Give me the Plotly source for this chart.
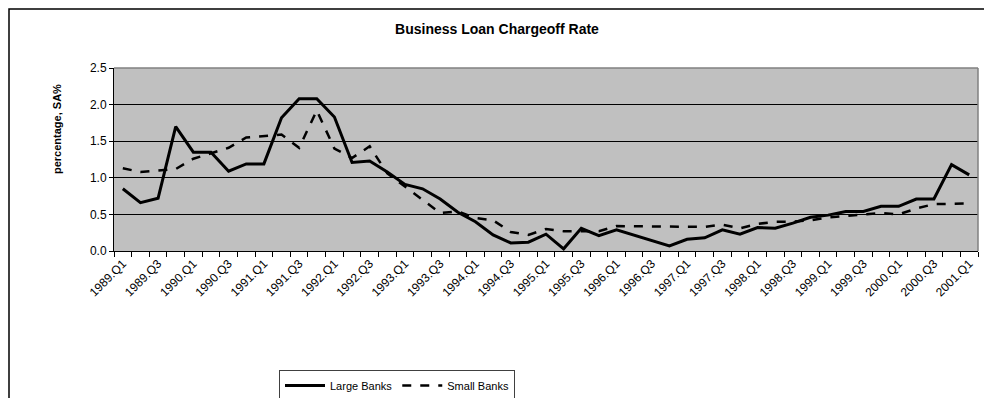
import plotly.graph_objects as go

quarters = [f"{y}.Q{q}" for y in range(1989, 2002) for q in range(1, 5)][:49]

large_banks = [0.85, 0.66, 0.72, 1.70, 1.35, 1.35, 1.09, 1.19, 1.19, 1.82,
               2.08, 2.08, 1.83, 1.21, 1.23, 1.08, 0.91, 0.85, 0.71, 0.53,
               0.40, 0.22, 0.11, 0.12, 0.23, 0.03, 0.31, 0.21, 0.29, 0.22,
               0.14, 0.07, 0.16, 0.18, 0.29, 0.23, 0.32, 0.31, 0.38, 0.46,
               0.49, 0.54, 0.54, 0.61, 0.61, 0.71, 0.71, 1.18, 1.04]

small_banks = [1.13, 1.08, 1.10, 1.12, 1.26, 1.34, 1.41, 1.55, 1.57, 1.59,
               1.41, 1.92, 1.40, 1.27, 1.43, 1.06, 0.88, 0.70, 0.52, 0.54,
               0.45, 0.42, 0.26, 0.22, 0.30, 0.27, 0.27, 0.27, 0.34, 0.34,
               0.33, 0.33, 0.34, 0.33, 0.36, 0.31, 0.37, 0.40, 0.40, 0.42,
               0.46, 0.48, 0.50, 0.52, 0.50, 0.58, 0.64, 0.65, 0.65]

y_ticks = [0.0, 0.5, 1.0, 1.5, 2.0, 2.5]

x_idx = list(range(len(quarters)))
label_idx = x_idx[::2]
label_txt = quarters[::2]

FONT = "Arial, Liberation Sans, sans-serif"

# The page body has an 8px margin, so the figure is offset by 8px.
OFF = 8
W, H = 992 - OFF, 398 - OFF
# plot area in page pixels: x 114..978, y 68..251
L = 114 - OFF
T = 68 - OFF
R = W - (978 - OFF)
B = H - (251 - OFF)
pw, ph = W - L - R, H - T - B


def px(xp):  # page pixel -> paper x
    return (xp - OFF - L) / pw


def py(yp):  # page pixel -> paper y
    return (H - B - (yp - OFF)) / ph


fig = go.Figure()
fig.add_trace(go.Scatter(x=x_idx, y=large_banks, name="Large Banks", mode="lines",
                         line=dict(color="black", width=3)))
fig.add_trace(go.Scatter(x=x_idx, y=small_banks, name="Small Banks", mode="lines",
                         line=dict(color="black", width=2.5, dash="dash")))

fig.update_layout(
    width=W, height=H,
    margin=dict(l=L, r=R, t=T, b=B, autoexpand=False),
    paper_bgcolor="white",
    plot_bgcolor="#C0C0C0",
    font=dict(family=FONT, color="black", size=11),
    title=dict(text="<b>Business Loan Chargeoff Rate</b>",
               x=(497 - OFF) / W, xref="container", xanchor="center",
               y=1 - (29 - OFF) / H, yref="container", yanchor="middle",
               font=dict(size=14, family=FONT)),
    showlegend=True,
    legend=dict(orientation="h", x=(279 - OFF) / W, y=1 - (370 - OFF) / H,
                xref="container", yref="container",
                xanchor="left", yanchor="top",
                bordercolor="#404040", borderwidth=1, bgcolor="white",
                font=dict(size=11, family=FONT), itemwidth=40,
                tracegroupgap=0),
    xaxis=dict(range=[-0.5, len(quarters) - 0.5], tickmode="array",
               tickvals=label_idx, ticktext=label_txt, tickangle=-45,
               ticks="", showgrid=False, zeroline=False, automargin=False,
               showline=True, linecolor="black", linewidth=1,
               tickfont=dict(size=12, family=FONT),
               minor=dict(tickmode="array",
                          tickvals=[i - 0.5 for i in range(len(quarters) + 1)],
                          ticks="outside", ticklen=5, tickcolor="black",
                          tickwidth=1, showgrid=False)),
    yaxis=dict(range=[0, 2.5], tickmode="array", tickvals=y_ticks,
               ticktext=[f"{v:.1f}" for v in y_ticks], automargin=False,
               ticks="outside", ticklen=4, tickcolor="black",
               showgrid=True, gridcolor="black", gridwidth=1,
               zeroline=False, showline=True, linecolor="black", linewidth=1,
               tickfont=dict(size=12, family=FONT)),
)

# plot area top/right border (gray)
fig.add_shape(type="line", xref="paper", yref="paper", x0=0, x1=1, y0=1, y1=1,
              line=dict(color="#808080", width=1.5), layer="above")
fig.add_shape(type="line", xref="paper", yref="paper", x0=1, x1=1, y0=0, y1=1,
              line=dict(color="#808080", width=1.5), layer="above")

# chart outer frame
fig.add_shape(type="rect", xref="paper", yref="paper",
              x0=px(9), x1=px(988), y0=py(420), y1=py(9),
              line=dict(color="black", width=1.5), fillcolor="rgba(0,0,0,0)",
              layer="above")

# y axis title
fig.add_annotation(text="<b>percentage, SA%</b>", textangle=-90, xref="paper", yref="paper",
                   x=px(57), y=py(129), xanchor="center", yanchor="middle",
                   showarrow=False, font=dict(size=11, family=FONT))

fig.write_html("out.html")
